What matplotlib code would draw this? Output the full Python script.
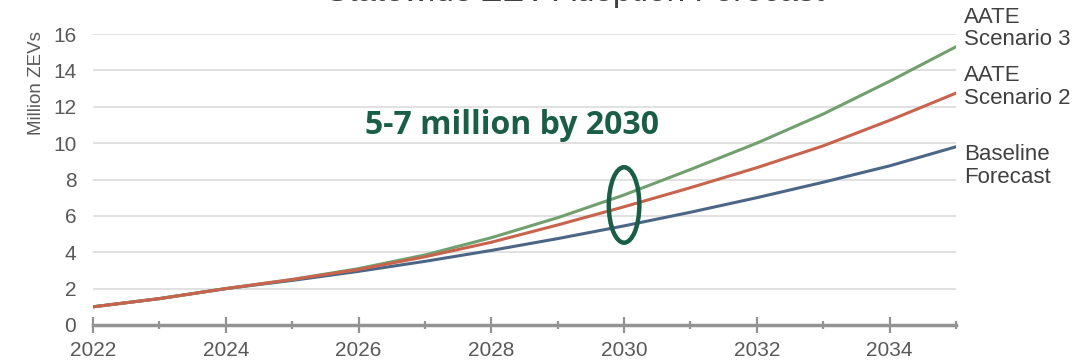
import matplotlib
matplotlib.use("Agg")
import matplotlib.pyplot as plt
from matplotlib.patches import Ellipse
from matplotlib.ticker import MultipleLocator

years = list(range(2022, 2036))
baseline = [1.0, 1.45, 2.0, 2.45, 2.95, 3.5, 4.1, 4.75, 5.45, 6.2, 7.0, 7.85, 8.75, 9.8]
scenario2 = [1.0, 1.45, 2.0, 2.5, 3.05, 3.75, 4.55, 5.5, 6.5, 7.55, 8.65, 9.85, 11.25, 12.75]
scenario3 = [1.0, 1.45, 2.0, 2.5, 3.1, 3.85, 4.8, 5.9, 7.15, 8.55, 10.0, 11.6, 13.4, 15.3]

series_labels = ["AATE\nScenario 3", "AATE\nScenario 2", "Baseline\nForecast"]
label_y = [16.3, 13.1, 8.75]
yticks = list(range(0, 18, 2))
xticks = list(range(2022, 2036, 2))

plt.rcParams["font.family"] = ["Liberation Sans", "DejaVu Sans"]
grey_txt = "#595959"

fig = plt.figure(figsize=(10.89, 3.63), dpi=100)
ax = fig.add_axes([93 / 1089, 38 / 363, 863 / 1089, 291 / 363])

ax.plot(years, baseline, color="#4c6686", lw=2.2, zorder=3)
ax.plot(years, scenario3, color="#71a06e", lw=2.2, zorder=3)
ax.plot(years, scenario2, color="#c8644d", lw=2.2, zorder=4)

ax.set_xlim(2022, 2035)
ax.set_ylim(0, 16)
ax.set_yticks(yticks)
ax.set_xticks(xticks)
ax.xaxis.set_minor_locator(MultipleLocator(1))

for y in yticks[1:]:
    ax.axhline(y, color="#dcdcdc", lw=1.2, zorder=1)

for side in ("top", "right", "left"):
    ax.spines[side].set_visible(False)
ax.spines["bottom"].set_color("#939393")
ax.spines["bottom"].set_linewidth(2.5)
ax.spines["bottom"].set_zorder(5)

ax.tick_params(axis="y", length=0, pad=12, labelsize=15, labelcolor=grey_txt)
ax.tick_params(axis="x", which="major", direction="inout", length=11, width=1.6,
               color="#939393", labelsize=15, labelcolor=grey_txt, pad=6)
ax.tick_params(axis="x", which="minor", direction="inout", length=6, width=1.6,
               color="#939393")
ax.set_ylabel("Million ZEVs", fontsize=13.5, color=grey_txt)
ax.yaxis.set_label_coords(-0.056, 0.83)

for text, y in zip(series_labels, label_y):
    ax.annotate(text, xy=(2035, y), xytext=(6, 0), textcoords="offset points",
                ha="left", va="center", fontsize=16, color="#404040",
                linespacing=1.1, annotation_clip=False)

# callout around the 2030 range
ax.add_patch(Ellipse((2030, 6.6), width=0.46, height=4.15, fill=False,
                     edgecolor="#1b5e48", lw=3.2, zorder=6))
ax.text(2026.1, 10.95, "5-7 million by 2030", fontsize=23, fontweight="bold",
        family=["Open Sans", "DejaVu Sans"], color="#1b5e48", va="center", ha="left")

fig.text(0.528, 1 - 0.5 / 363, "Statewide ZEV Adoption Forecast", ha="center",
         va="baseline", fontsize=24, color="#404040")

fig.savefig("out.png", dpi=100, facecolor="white")
